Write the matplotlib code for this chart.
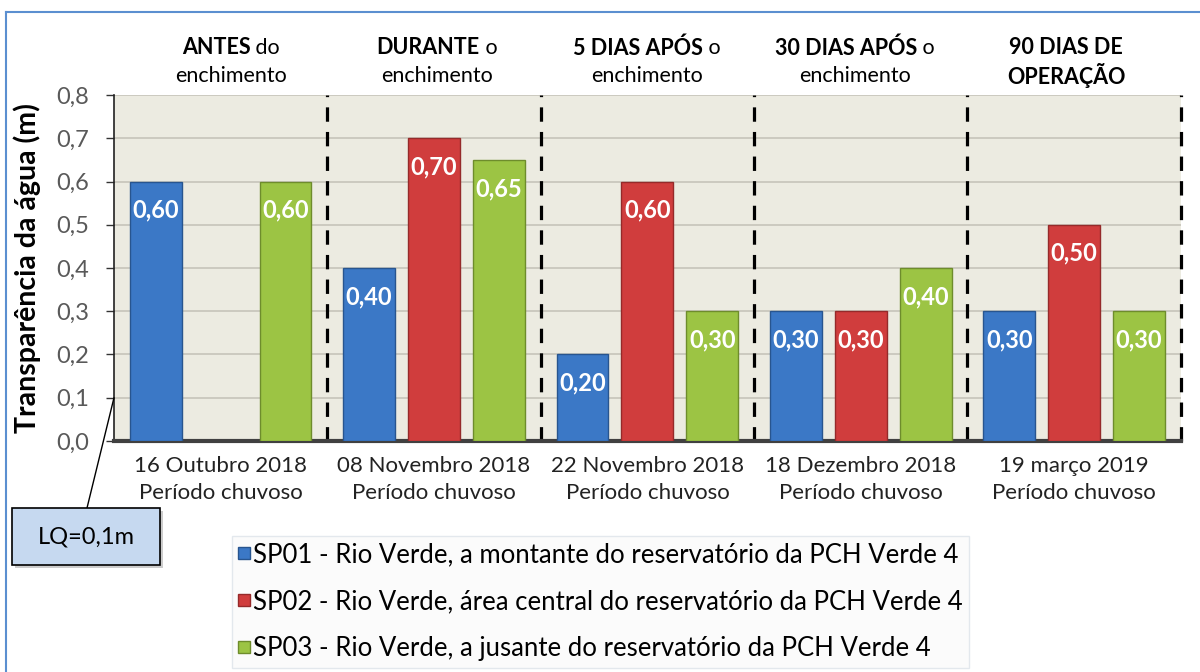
import numpy as np
import matplotlib
matplotlib.use("Agg")
import matplotlib.pyplot as plt
from matplotlib.patches import Rectangle
from matplotlib.lines import Line2D

plt.rcParams['font.family'] = ['Lato', 'DejaVu Sans']

# dados
datas = ["16 Outubro 2018\nPeríodo chuvoso", "08 Novembro 2018\nPeríodo chuvoso",
         "22 Novembro 2018\nPeríodo chuvoso", "18 Dezembro 2018\nPeríodo chuvoso",
         "19 março 2019\nPeríodo chuvoso"]
sp01 = [0.60, 0.40, 0.20, 0.30, 0.30]
sp02 = [np.nan, 0.70, 0.60, 0.30, 0.50]
sp03 = [0.60, 0.65, 0.30, 0.40, 0.30]
series_nomes = ["SP01 - Rio Verde, a montante do reservatório da PCH Verde 4",
                "SP02 - Rio Verde, área central do reservatório da PCH Verde 4",
                "SP03 - Rio Verde, a jusante do reservatório da PCH Verde 4"]
cab_negrito = ["ANTES", "DURANTE", "5 DIAS APÓS", "30 DIAS APÓS", "90 DIAS DE"]
cab_normal = ["do", "o", "o", "o", ""]
cab_linha2 = ["enchimento", "enchimento", "enchimento", "enchimento", "OPERAÇÃO"]
yticks = [0.0, 0.1, 0.2, 0.3, 0.4, 0.5, 0.6, 0.7, 0.8]

cores = ["#3b78c6", "#d03d3d", "#9cc444"]
bordas = ["#28558f", "#952a2a", "#6e8c2c"]

fig = plt.figure(figsize=(12, 6.72), dpi=100)
ax = fig.add_axes([0.095, 0.3438, 0.889, 0.5148])
ax.set_facecolor("#ecebe1")

x = np.arange(len(datas))
w = 0.243
off = 0.304
for i, vals in enumerate([sp01, sp02, sp03]):
    pos = x + (i - 1) * off
    ax.bar(pos, vals, w, color=cores[i], edgecolor=bordas[i], linewidth=1.0, zorder=3)
    for p, v in zip(pos, vals):
        if np.isnan(v):
            continue
        ax.text(p, v - 0.066, f"{v:.2f}".replace(".", ","), ha="center", va="center",
                color="white", fontsize=17, fontweight="bold", zorder=4)

ax.set_xlim(-0.5, 4.5)
ax.set_ylim(0, 0.8)
ax.set_yticks(yticks)
ax.set_yticklabels([f"{t:.1f}".replace(".", ",") for t in yticks], color="#595959", fontsize=17)
ax.set_xticks(x)
ax.set_xticklabels(datas, fontsize=16, color="#222222", linespacing=1.45)
ax.tick_params(axis="x", length=0, pad=11)
ax.tick_params(axis="y", length=6, width=1, pad=12, color="#333333")
ax.grid(axis="y", color="#c9c7bd", linewidth=1.3, zorder=0)
ax.set_axisbelow(True)
for s in ["top", "right"]:
    ax.spines[s].set_visible(False)
ax.spines["left"].set_color("#222222")
ax.spines["left"].set_linewidth(1.2)
ax.spines["bottom"].set_color("#404040")
ax.spines["bottom"].set_linewidth(3)

for b in [0.5, 1.5, 2.5, 3.5, 4.5]:
    ax.axvline(b, color="black", linewidth=2.3, dashes=(4.5, 3.2), zorder=2, clip_on=False)

ax.set_ylabel("Transparência da água (m)", fontsize=20.5, fontweight="bold")
ax.yaxis.set_label_coords(-0.068, 0.5)

# cabeçalhos
cab_x = [231, 437, 647, 855, 1066]
fig.canvas.draw()
r = fig.canvas.get_renderer()
for i in range(len(cab_negrito)):
    xc = cab_x[i] / 1200
    y1 = 1 - 48 / 672
    y2 = 1 - 76 / 672
    tb = fig.text(0, y1, cab_negrito[i], fontsize=15.5, fontweight="bold", va="center", ha="left")
    tn = fig.text(0, y1, (" " + cab_normal[i]) if cab_normal[i] else "", fontsize=15.5,
                  va="center", ha="left")
    wb = tb.get_window_extent(r).width
    wn = tn.get_window_extent(r).width if cab_normal[i] else 0
    x0 = xc * 1200 - (wb + wn) / 2
    tb.set_x(x0 / 1200)
    tn.set_x((x0 + wb) / 1200)
    fig.text(xc, y2, cab_linha2[i], fontsize=15.5, va="center", ha="center",
             fontweight="bold" if i == 4 else "normal")

# caixa LQ
fig.patches.append(Rectangle((15 / 1200, 1 - 568 / 672), 148 / 1200, 57 / 672,
                             transform=fig.transFigure, facecolor="#9a9a9a",
                             edgecolor="none", alpha=0.5, zorder=1))
fig.patches.append(Rectangle((12 / 1200, 1 - 565 / 672), 148 / 1200, 57 / 672,
                             transform=fig.transFigure, facecolor="#c6d9f0",
                             edgecolor="black", linewidth=1.2, zorder=2))
fig.text(86 / 1200, 1 - 537 / 672, "LQ=0,1m", fontsize=17, ha="center", va="center", zorder=3)
ax.annotate("", xy=(-0.5, 0.1), xycoords="data",
            xytext=(87 / 1200, 1 - 508 / 672), textcoords="figure fraction",
            arrowprops=dict(arrowstyle="-", color="black", lw=1, shrinkA=0, shrinkB=0),
            annotation_clip=False)

# legenda
handles = [Line2D([], [], marker="s", linestyle="none", markersize=9,
                  markerfacecolor=cores[i], markeredgecolor=bordas[i]) for i in range(3)]
leg = fig.legend(handles, series_nomes, loc="upper left", bbox_to_anchor=(0.193, 0.203),
                 fontsize=18.5, frameon=True, fancybox=False, handlelength=0.45,
                 handletextpad=0.15, labelspacing=0.86, borderpad=0.25, borderaxespad=0)
leg.get_frame().set_edgecolor("#dde3ea")
leg.get_frame().set_facecolor("#fbfbfb")
leg.get_frame().set_linewidth(1)

# moldura externa
fig.add_artist(Line2D([6 / 1200, 6 / 1200], [0, 1 - 12 / 672], transform=fig.transFigure,
                      color="#5b8fd0", linewidth=1.5))
fig.add_artist(Line2D([6 / 1200, 1], [1 - 12 / 672, 1 - 12 / 672], transform=fig.transFigure,
                      color="#5b8fd0", linewidth=1.5))

fig.savefig("out.png", dpi=100)
